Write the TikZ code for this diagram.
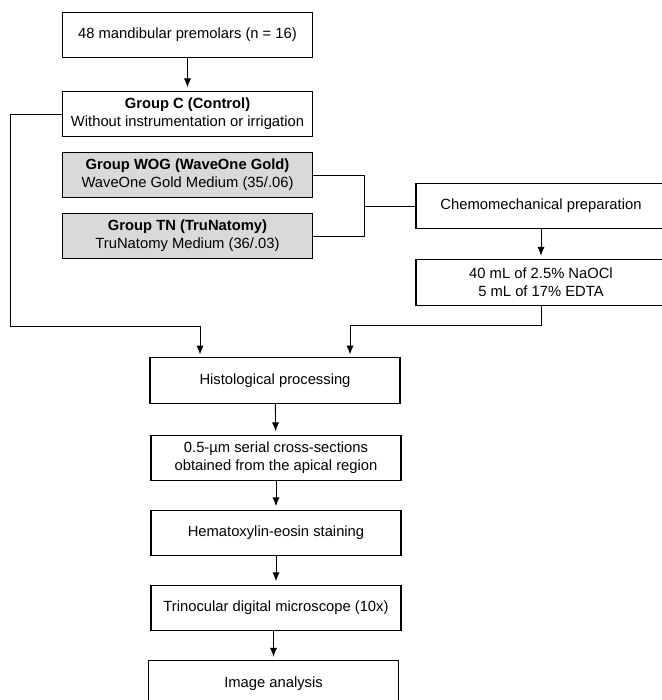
\documentclass[tikz,border=0pt]{standalone}
\usepackage{fontspec}
\setmainfont{Liberation Sans}
\usetikzlibrary{arrows.meta}
\definecolor{groupgray}{RGB}{217,217,217}
\begin{document}
\begin{tikzpicture}[x=0.03cm,y=-0.03cm,
    font=\fontsize{12.6}{15.4}\selectfont,
    stepbox/.style={draw,line width=1pt,minimum width=7.5cm,minimum height=1.36cm,inner sep=0pt,align=center},
    groupbox/.style={stepbox,fill=groupgray},
    link/.style={line width=0.75pt},
    flow/.style={link,-{Latex[length=7.5pt,width=6pt]},shorten >=3pt}]
  \useasboundingbox (0,0) rectangle (661,700);
  \draw
    (187.5,35) node[stepbox] (teeth){48 mandibular premolars (n = 16)}
    (187.5,114) node[stepbox] (control){\textbf{Group C (Control)}\\Without instrumentation or irrigation}
    (187.5,175) node[groupbox] (wog){\textbf{Group WOG (WaveOne Gold)}\\WaveOne Gold Medium (35/.06)}
    (187.5,236) node[groupbox] (tn){\textbf{Group TN (TruNatomy)}\\TruNatomy Medium (36/.03)}
    (541,206) node[stepbox] (chem){Chemomechanical preparation}
    (541,282.5) node[stepbox] (irrig){40 mL of 2.5\% NaOCl\\5 mL of 17\% EDTA}
    (275,380.5) node[stepbox] (histo){Histological processing}
    (276,458) node[stepbox] (cuts){0.5-µm serial cross-sections\\obtained from the apical region}
    (276,533) node[stepbox] (stain){Hematoxylin-eosin staining}
    (276,608) node[stepbox] (scope){Trinocular digital microscope (10x)}
    (273.5,683.5) node[stepbox] (analysis){Image analysis};
  \coordinate (join) at (364,206);
  \coordinate (bendL) at (10,326);
  \coordinate (bendR) at (541,325);
  \coordinate (histoL) at (200,358);
  \coordinate (histoR) at (350,358);
  \begin{scope}[link]
    \draw (wog.east) -| (join);
    \draw (tn.east) -| (join) -- (chem.west);
  \end{scope}
  \begin{scope}[flow]
    \draw (teeth) -- (control);
    \draw (chem) -- (irrig);
    \draw (control.west) -| (bendL) -| (histoL);
    \draw (irrig.south) -- (bendR) -| (histoR);
    \draw (histo) -- (cuts);
    \draw (cuts) -- (stain);
    \draw (stain) -- (scope);
    \draw (analysis.north |- scope.south) -- (analysis.north);
  \end{scope}
\end{tikzpicture}
\end{document}
